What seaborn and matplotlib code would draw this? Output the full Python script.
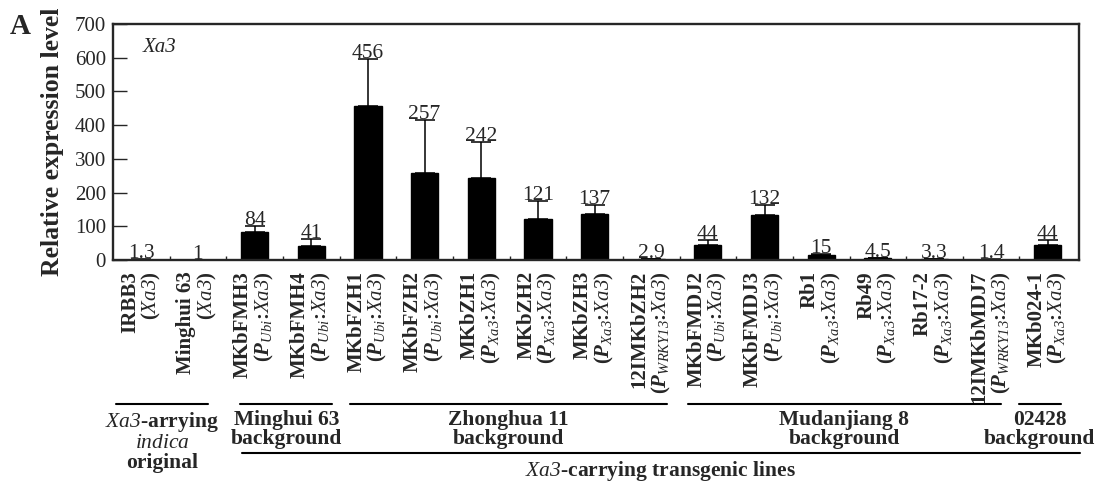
import numpy as np
import pandas as pd
import matplotlib
matplotlib.use("Agg")
import matplotlib.pyplot as plt
import matplotlib.transforms as mtransforms
from matplotlib.lines import Line2D
import seaborn as sns

# ---------------- data ----------------
lines = ["IRBB3", "Minghui 63", "MKbFMH3", "MKbFMH4", "MKbFZH1", "MKbFZH2",
         "MKbZH1", "MKbZH2", "MKbZH3", "12IMKbZH2", "MKbFMDJ2", "MKbFMDJ3",
         "Rb1", "Rb49", "Rb17-2", "12IMKbMDJ7", "MKb024-1"]
constructs = [r"($\mathit{Xa3}$)", r"($\mathit{Xa3}$)",
              r"($\mathbfit{P}_{\mathit{Ubi}}$:$\mathit{Xa3}$)", r"($\mathbfit{P}_{\mathit{Ubi}}$:$\mathit{Xa3}$)",
              r"($\mathbfit{P}_{\mathit{Ubi}}$:$\mathit{Xa3}$)", r"($\mathbfit{P}_{\mathit{Ubi}}$:$\mathit{Xa3}$)",
              r"($\mathbfit{P}_{\mathit{Xa3}}$:$\mathit{Xa3}$)", r"($\mathbfit{P}_{\mathit{Xa3}}$:$\mathit{Xa3}$)",
              r"($\mathbfit{P}_{\mathit{Xa3}}$:$\mathit{Xa3}$)", r"($\mathbfit{P}_{\mathit{WRKY13}}$:$\mathit{Xa3}$)",
              r"($\mathbfit{P}_{\mathit{Ubi}}$:$\mathit{Xa3}$)", r"($\mathbfit{P}_{\mathit{Ubi}}$:$\mathit{Xa3}$)",
              r"($\mathbfit{P}_{\mathit{Xa3}}$:$\mathit{Xa3}$)", r"($\mathbfit{P}_{\mathit{Xa3}}$:$\mathit{Xa3}$)",
              r"($\mathbfit{P}_{\mathit{Xa3}}$:$\mathit{Xa3}$)", r"($\mathbfit{P}_{\mathit{WRKY13}}$:$\mathit{Xa3}$)",
              r"($\mathbfit{P}_{\mathit{Xa3}}$:$\mathit{Xa3}$)"]
values = [1.3, 1, 84, 41, 456, 257, 242, 121, 137, 2.9, 44, 132, 15, 4.5, 3.3, 1.4, 44]
errors = [0.3, 0.2, 18, 20, 139, 158, 109, 54, 27, 0.6, 15, 32, 2, 0.8, 0.6, 0.3, 14]
value_labels = ["1.3", "1", "84", "41", "456", "257", "242", "121", "137", "2.9",
                "44", "132", "15", "4.5", "3.3", "1.4", "44"]

group_texts = [r"$\mathit{Xa3}$-arrying" + "\n" + r"$\mathit{indica}$" + "\noriginal",
               "Minghui 63\nbackground", "Zhonghua 11\nbackground",
               "Mudanjiang 8\nbackground", "02428\nbackground"]
group_start = [-0.44, 1.75, 3.69, 9.65, 15.49]
group_end = [1.18, 3.37, 9.28, 15.17, 16.23]
outer_text = r"$\mathit{Xa3}$-carrying transgenic lines"
outer_start, outer_end = 1.78, 16.56

# ---------------- style ----------------
sns.set_style("ticks")
plt.rcParams["font.family"] = ["Liberation Serif", "DejaVu Serif"]
plt.rcParams["mathtext.fontset"] = "custom"
plt.rcParams["mathtext.rm"] = "Liberation Serif:italic"
plt.rcParams["mathtext.it"] = "Liberation Serif:italic"
plt.rcParams["mathtext.bf"] = "Liberation Serif:bold"
try:
    plt.rcParams["mathtext.bfit"] = "Liberation Serif:italic:bold"
except KeyError:
    pass

df = pd.DataFrame({"line": [f"{a}\n{b}" for a, b in zip(lines, constructs)],
                   "value": values})

fig = plt.figure(figsize=(11.12, 4.9), dpi=100)
ax = fig.add_axes([0.1016, 0.4694, 0.8687, 0.4816])

sns.barplot(data=df, x="line", y="value", color="black", width=0.48,
            saturation=1, errorbar=None, ax=ax, edgecolor="black")

pos = np.arange(len(values))
ax.errorbar(pos, values, yerr=[np.zeros(len(errors)), errors], fmt="none",
            ecolor="black", elinewidth=1.1, capsize=7, capthick=1.1)

for x, v, e, lab in zip(pos, values, errors, value_labels):
    ax.text(x, v + e + 3, lab, ha="center", va="baseline", fontsize=15.5)

ax.set_xlim(-0.5, len(values) - 0.45)
ax.set_ylim(0, 700)
ax.set_yticks(range(0, 701, 100))
ax.tick_params(axis="y", direction="in", length=10, width=1.0, labelsize=15, pad=5)
ax.set_xticks(pos)
ax.set_xticklabels(df["line"], rotation=90, fontsize=15, fontweight="bold",
                   ha="center", multialignment="right", linespacing=1.0)
ax.tick_params(axis="x", length=0, pad=8)
ax.set_xticks(pos[:-1] + 0.5, minor=True)
ax.tick_params(axis="x", which="minor", direction="in", length=3, width=1.0)
for s in ax.spines.values():
    s.set_visible(True)
    s.set_linewidth(1.7)
ax.set_xlabel("")
ax.set_ylabel("Relative expression level", fontsize=18.5, fontweight="bold")
ax.yaxis.set_label_coords(-0.051, 0.5)

ax.text(0.031, 0.90, "Xa3", transform=ax.transAxes, fontstyle="italic",
        fontsize=15, va="center", ha="left")
fig.text(0.009, 0.945, "A", fontsize=21, fontweight="bold", va="center", ha="left")

trans = mtransforms.blended_transform_factory(ax.transData, fig.transFigure)
for t, s0, s1 in zip(group_texts, group_start, group_end):
    fig.add_artist(Line2D([s0, s1], [0.1755, 0.1755], transform=trans,
                          color="black", lw=1.5))
    fig.text((s0 + s1) / 2, 0.163, t, transform=trans, ha="center", va="top",
             fontsize=15.5, fontweight="bold", linespacing=0.95)
fig.add_artist(Line2D([outer_start, outer_end], [0.0755, 0.0755], transform=trans,
                      color="black", lw=1.5))
fig.text((outer_start + outer_end) / 2, 0.039, outer_text, transform=trans,
         ha="center", va="center", fontsize=15.5, fontweight="bold")

fig.savefig("out.png", dpi=100)
